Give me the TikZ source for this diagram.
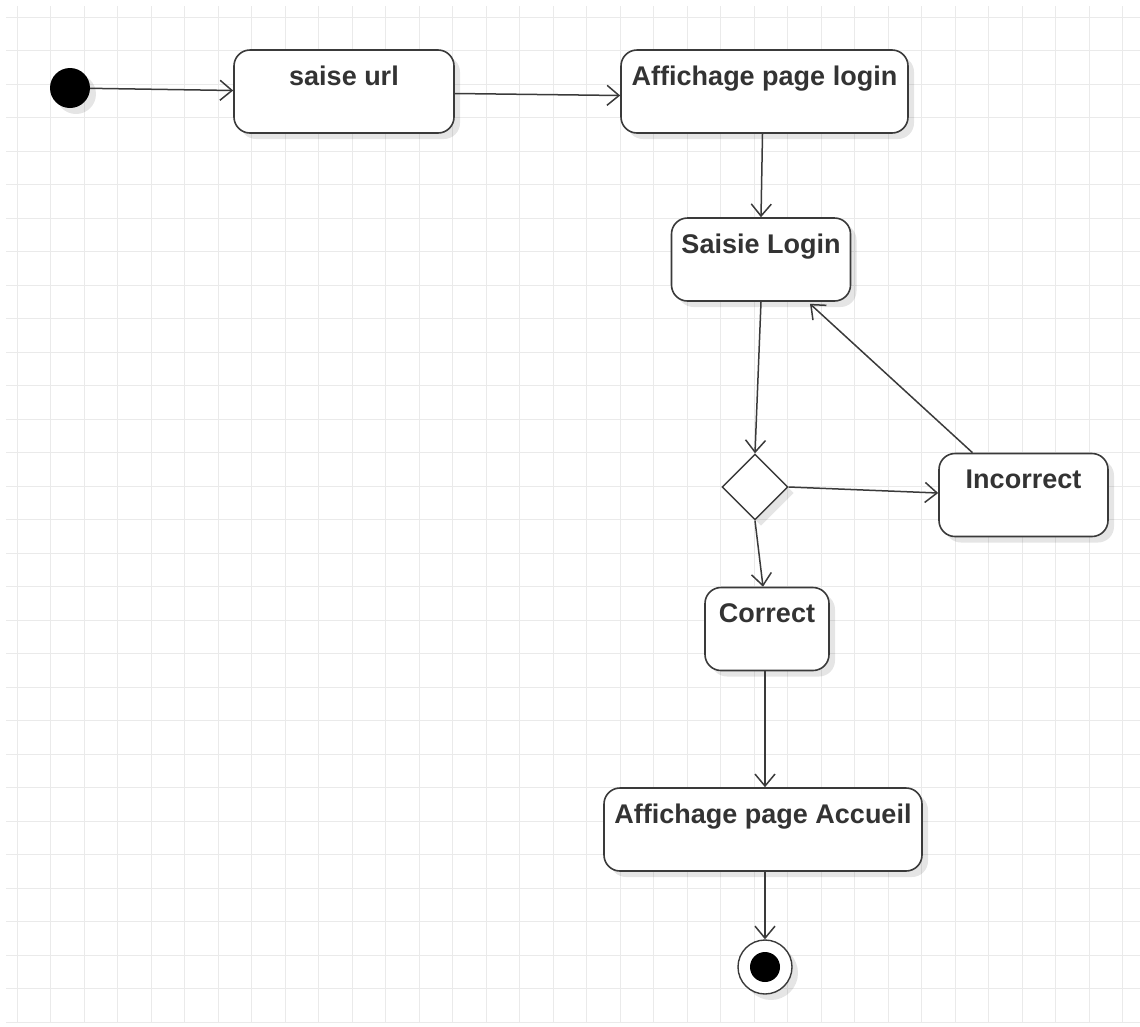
\documentclass[tikz,border=0pt]{standalone}
\usepackage{fontspec}
\setmainfont{Liberation Sans}
\usepackage{xcolor}
\usepackage{tikz}
\usetikzlibrary{calc,arrows.meta,shapes.geometric,shadows}
\definecolor{gridc}{HTML}{EAEAEA}
\definecolor{line}{HTML}{3A3A3A}
\definecolor{txt}{HTML}{333333}
\tikzset{
  shade/.style={drop shadow={shadow xshift=6pt, shadow yshift=-6pt, opacity=0.1, fill=black}},
  state/.style={draw=line, fill=white, line width=1.6pt, rounded corners=16pt, shade,
    inner xsep=0pt, inner ysep=0pt, text height=35pt, text depth=48pt,
    font=\bfseries\fontsize{27}{30}\selectfont, text=txt},
  dec/.style={diamond, draw=line, fill=white, line width=1.4pt, shade, inner sep=0pt,
    minimum width=66pt, minimum height=66pt},
  initdot/.style={circle, fill=black, inner sep=0pt, minimum size=40pt, shade},
  finring/.style={circle, draw=line, fill=white, line width=1.4pt, inner sep=0pt, minimum size=54pt, shade},
  findot/.style={circle, fill=black, inner sep=0pt, minimum size=30pt},
  flow/.style={draw=line, line width=1.5pt, -{Straight Barb[length=12pt, width=20pt, line width=1.5pt]}},
}

\begin{document}
\begin{tikzpicture}[x=1pt, y=-1pt]
  \useasboundingbox (0,0) rectangle (1140,1026);
  \foreach \i in {0,...,33} {
    \draw[gridc, line width=1pt] ({17+33.5*\i},6) -- ({17+33.5*\i},1022);
  }
  \foreach \j in {0,...,30} {
    \draw[gridc, line width=1pt] (6,{17+33.5*\j}) -- (1140,{17+33.5*\j});
  }

  \node[initdot] (start) at (70,88) {};
  \node[state, minimum width=220pt] (url) at (344,91.5) {saise url};
  \node[state, minimum width=287pt] (login) at (764.5,91.5) {Affichage page login};
  \node[state, minimum width=179pt] (saisie) at (761,259.5) {Saisie Login};
  \node[dec] (choix) at (755,487) {};
  \node[state, minimum width=169pt] (incorrect) at (1023.5,495) {Incorrect};
  \node[state, minimum width=124pt] (correct) at (767,629) {Correct};
  \node[state, minimum width=318pt] (accueil) at (763,829.5) {Affichage page Accueil};
  \node[finring] (fin) at (765,967) {};
  \node[findot] (findot) at (fin) {};

  \draw[flow] (start) -- ([yshift=1pt]url.west);
  \draw[flow] ([yshift=-2pt]url.east) -- ([yshift=-4pt]login.west);
  \draw[flow] ([xshift=-2pt]login.south) -- (saisie.north);
  \draw[flow] (saisie.south) -- (choix.north);
  \draw[flow] (choix.east) -- ([yshift=2pt]incorrect.west);
  \draw[flow] ([xshift=-51pt]incorrect.north) -- ([xshift=49pt, yshift=-2pt]saisie.south);
  \draw[flow] (choix.south) -- ([xshift=-4pt]correct.north);
  \draw[flow] ([xshift=-2pt]correct.south) -- ([xshift=2pt]accueil.north);
  \draw[flow] ([xshift=2pt]accueil.south) -- (fin);
\end{tikzpicture}
\end{document}
